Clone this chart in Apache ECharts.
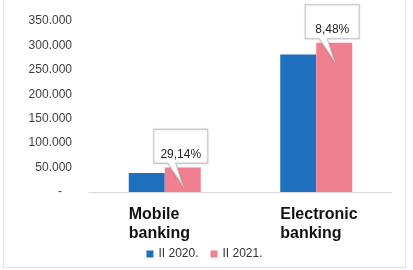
<!DOCTYPE html>
<html>
<head>
<meta charset="utf-8">
<script src="https://cdn.jsdelivr.net/npm/echarts@6/dist/echarts.min.js"></script>
<style>
  html, body { margin: 0; padding: 0; background: #fff; }
  #chart { position: absolute; left: 3px; top: 0; width: 403px; height: 268px; border: 1px solid #e4e4e4; border-top: none; box-sizing: border-box; }
</style>
</head>
<body>
<div id="chart"></div>
<script>
// data
var categories = ["Mobile\nbanking", "Electronic\nbanking"];
var seriesNames = ["II 2020.", "II 2021."];
var values2020 = [39000, 281500];
var values2021 = [50400, 305400];
var growthLabels = ["29,14%", "8,48%"];
var yTicks = [0, 50000, 100000, 150000, 200000, 250000, 300000, 350000];

var colors = ["#1f6fbf", "#f07f8f"];

// callout box with a tail pointing down into the bar
var calloutPath = "path://M0,0 L54,0 L54,34 L22,34 L29,56 L14,34 L0,34 Z";

function fmt(v) {
  if (v === 0) return "-   ";
  return String(v / 1000) + ".000";
}

var chart = echarts.init(document.getElementById("chart"));
chart.setOption({
  animation: false,
  textStyle: { fontFamily: "Liberation Sans, Arial, sans-serif" },
  grid: { left: 85, right: 13, top: 21, bottom: 75 },
  legend: {
    bottom: 2,
    left: "center",
    itemWidth: 7,
    itemHeight: 7,
    itemGap: 12,
    icon: "rect",
    textStyle: { fontSize: 12, color: "#333", fontFamily: "Liberation Sans, Arial, sans-serif" },
    data: seriesNames
  },
  xAxis: {
    type: "category",
    data: categories,
    axisTick: { show: false },
    axisLine: { lineStyle: { color: "#d9d9d9" } },
    axisLabel: {
      margin: 13,
      formatter: function (v) {
        return v.split("\n").map(function (s) { return "{a|" + s + "}"; }).join("\n");
      },
      rich: {
        a: { width: 72, align: "left", fontSize: 16, fontWeight: "bold", color: "#111", lineHeight: 19 }
      }
    }
  },
  yAxis: {
    type: "value",
    min: 0,
    max: yTicks[yTicks.length - 1],
    interval: yTicks[1] - yTicks[0],
    splitLine: { show: false },
    axisLine: { show: false },
    axisTick: { show: false },
    axisLabel: { margin: 17, fontSize: 12, color: "#404040", formatter: fmt }
  },
  series: [
    {
      name: seriesNames[0],
      type: "bar",
      barWidth: 36,
      barGap: "0%",
      itemStyle: { color: colors[0] },
      data: values2020
    },
    {
      name: seriesNames[1],
      type: "bar",
      barWidth: 36,
      itemStyle: { color: colors[1] },
      data: values2021,
      markPoint: {
        symbol: calloutPath,
        symbolSize: [54, 56],
        symbolKeepAspect: false,
        symbolOffset: [-2, -10],
        itemStyle: { color: "#fff", borderColor: "#c8c8c8", borderWidth: 1, shadowColor: "rgba(0,0,0,0.15)", shadowBlur: 2 },
        label: {
          show: true,
          color: "#222",
          fontSize: 12,
          offset: [0, -3],
          formatter: function (p) { return growthLabels[p.data.idx]; }
        },
        data: values2021.map(function (v, i) {
          return { coord: [i, v], idx: i };
        })
      }
    }
  ]
});
</script>
</body>
</html>
